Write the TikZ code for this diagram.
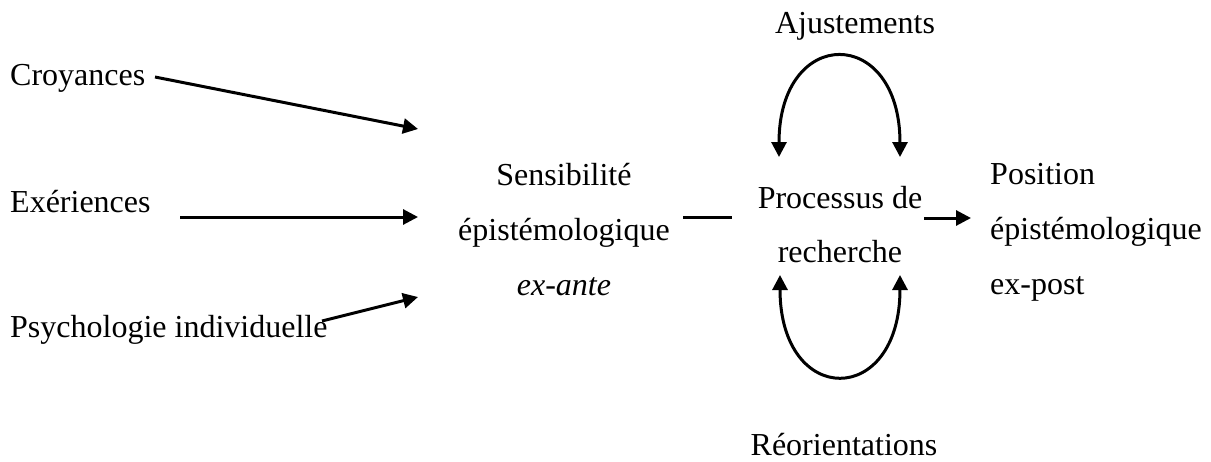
\documentclass[tikz,border=0pt]{standalone}
\usepackage{fontspec}
\setmainfont{Liberation Serif}
\usetikzlibrary{arrows.meta}
\begin{document}
\begin{tikzpicture}[x=1pt,y=-1pt,
  lbl/.style={inner sep=0pt,anchor=base,font=\fontsize{32}{38}\selectfont},
  lbll/.style={lbl,anchor=base west},
  tipa/.tip={Triangle[length=15pt,width=15pt]},
  conn/.style={line width=3pt,-tipa},
  plain/.style={line width=3pt},
  loopc/.style={line width=3pt,tipa-tipa}]
\useasboundingbox (0,0) rectangle (1211,461);
% texts
\node[lbll] (cro) at (10,85) {Croyances};
\node[lbll] (exp) at (10,212) {Exériences};
\node[lbll] (psy) at (10,337) {Psychologie individuelle};
\node[lbl] (s1) at (564,185) {Sensibilité};
\node[lbl] (s2) at (564,240) {épistémologique};
\node[lbl] (s3) at (564,295) {\itshape ex-ante};
\node[lbl] (p1) at (840,208) {Processus de};
\node[lbl] (p2) at (840,262) {recherche};
\node[lbll] (q1) at (990,184) {Position};
\node[lbll] (q2) at (990,239) {épistémologique};
\node[lbll] (q3) at (990,294) {ex-post};
\node[lbl] (aj) at (855,33) {Ajustements};
\node[lbl] (re) at (844,455) {Réorientations};
% connector end points
\coordinate (c1a) at (155,77);
\coordinate (c1b) at (418,129);
\coordinate (c2a) at (180,217);
\coordinate (c2b) at (418,217);
\coordinate (c3a) at (322,321);
\coordinate (c3b) at (418,297);
\coordinate (la) at (683,217);
\coordinate (lb) at (732,217);
\coordinate (ra) at (924,218);
\coordinate (rb) at (971,218);
\coordinate (tl) at (779,157);
\coordinate (tr) at (900,157);
\coordinate (bl) at (780,275);
\coordinate (br) at (900,275);
% connectors
\draw[conn] (c1a) -- (c1b);
\draw[conn] (c2a) -- (c2b);
\draw[conn] (c3a) -- (c3b);
\draw[plain] (la) -- (lb);
\draw[conn] (ra) -- (rb);
\draw[loopc] (tl) .. controls (779,25) and (900,25) .. (tr);
\draw[loopc] (bl) .. controls (780,408) and (900,408) .. (br);
\end{tikzpicture}
\end{document}
